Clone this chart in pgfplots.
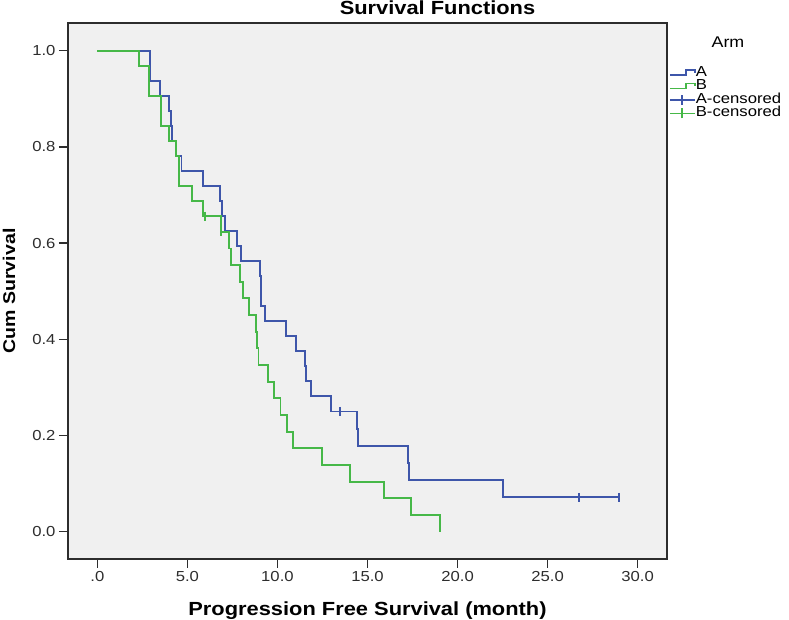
\documentclass[border=0pt]{standalone}
\usepackage{fontspec}
\setmainfont{Liberation Sans}[FakeStretch=1.15]
\usepackage{pgfplots}
\pgfplotsset{compat=1.18}
\definecolor{armA}{RGB}{62,86,170}
\definecolor{armB}{RGB}{70,184,72}
\definecolor{bg}{RGB}{240,240,240}
\definecolor{frame}{RGB}{45,45,45}
\begin{document}
\begin{tikzpicture}[x=1pt,y=1pt]
\path[use as bounding box] (0,0) rectangle (789,620);
\begin{axis}[
  at={(68pt,61pt)}, anchor=south west,
  scale only axis, width=599pt, height=536pt,
  xmin=-1.63, xmax=31.63, ymin=-0.0567, ymax=1.0575,
  axis background/.style={fill=bg},
  axis line style={frame, line width=1.3pt},
  xtick={0,5,10,15,20,25,30},
  xticklabels={.0,5.0,10.0,15.0,20.0,25.0,30.0},
  ytick={0,0.2,0.4,0.6,0.8,1},
  yticklabels={0.0,0.2,0.4,0.6,0.8,1.0},
  tick align=outside, xtick pos=bottom, ytick pos=left,
  major tick length=9pt,
  every tick/.style={frame, line width=1.3pt},
  /pgf/number format/assume math mode=true,
  ticklabel style={font=\fontsize{14.5}{14.5}\selectfont, text=frame},
  xlabel={Progression Free Survival (month)},
  ylabel={Cum Survival},
  xlabel style={font=\bfseries\fontsize{19}{19}\selectfont, at={(axis description cs:0.5,-0.1045)}, anchor=base},
  ylabel style={font=\bfseries\fontsize{17}{17}\selectfont, at={(axis description cs:-0.0985,0.5)}, anchor=center},
  legend cell align=left,
  legend style={at={(axis description cs:1,1)}, anchor=north west,
    xshift=2pt, yshift=-43pt, draw=none, fill=none, inner sep=0pt,
    row sep=0pt,
    nodes={font=\fontsize{14.5}{14.5}\selectfont, inner sep=0.25pt, text height=10pt, text depth=3pt}},
]
\addplot[armA, line width=1.9pt, const plot,
  legend image code/.code={\draw[armA, line width=1.4pt] (0pt,-2pt) -- (16pt,-2pt) -- (16pt,3pt) -- (25pt,3pt) -- (25pt,0pt);}]
coordinates {
(0,1) (2.9,0.9375) (3.5,0.90625) (3.98,0.875) (4.07,0.84375) (4.14,0.8125)
(4.39,0.78125) (4.67,0.75) (5.87,0.71875) (6.8,0.6875) (6.94,0.65625)
(7.08,0.625) (7.76,0.59375) (8.0,0.5625) (9.02,0.53125) (9.07,0.5)
(9.1,0.46875) (9.32,0.4375) (10.46,0.40625) (11.02,0.375) (11.55,0.34375)
(11.6,0.3125) (11.85,0.28125) (12.96,0.25) (14.42,0.2143) (14.47,0.1786)
(17.26,0.1429) (17.32,0.1071) (22.5,0.0714) (29.0,0.0714)
};
\addlegendentry{A}
\addplot[armB, line width=1.9pt, const plot,
  legend image code/.code={\draw[armB, line width=1.4pt] (0pt,-2pt) -- (16pt,-2pt) -- (16pt,3pt) -- (25pt,3pt) -- (25pt,0pt);}]
coordinates {
(0,1) (2.3,0.96875) (2.87,0.90625) (3.55,0.84375) (3.98,0.8125) (4.39,0.78125)
(4.53,0.71875) (5.26,0.6875) (5.85,0.65625) (6.85,0.6234) (7.31,0.5888)
(7.44,0.5541) (7.94,0.5195) (8.09,0.4849) (8.41,0.4502) (8.82,0.4156)
(8.87,0.3810) (8.95,0.3463) (9.48,0.3117) (9.8,0.2771) (10.17,0.2424)
(10.53,0.2078) (10.87,0.1732) (12.48,0.1385) (14.02,0.1039) (15.92,0.0693)
(17.4,0.0346) (19.02,0)
};
\addlegendentry{B}
\addplot[armA, only marks, mark=|, mark size=4.5pt, mark options={line width=1.9pt},
  legend image code/.code={\draw[armA, line width=1.4pt] (0pt,0pt) -- (25pt,0pt); \draw[armA, line width=1.4pt] (12pt,-5pt) -- (12pt,5pt);}]
coordinates {(13.46,0.25) (26.74,0.0714) (28.96,0.0714)};
\addlegendentry{A-censored}
\addplot[armB, only marks, mark=|, mark size=4.5pt, mark options={line width=1.9pt},
  legend image code/.code={\draw[armB, line width=1.4pt] (0pt,0pt) -- (25pt,0pt); \draw[armB, line width=1.4pt] (12pt,-5pt) -- (12pt,5pt);}]
coordinates {(5.96,0.65625) (6.89,0.6234)};
\addlegendentry{B-censored}
\end{axis}
\node[font=\bfseries\fontsize{19}{19}\selectfont, anchor=base] at (437.5,605) {Survival Functions};
\node[font=\fontsize{15.5}{15.5}\selectfont, anchor=base] at (728,572.5) {Arm};
\end{tikzpicture}
\end{document}
